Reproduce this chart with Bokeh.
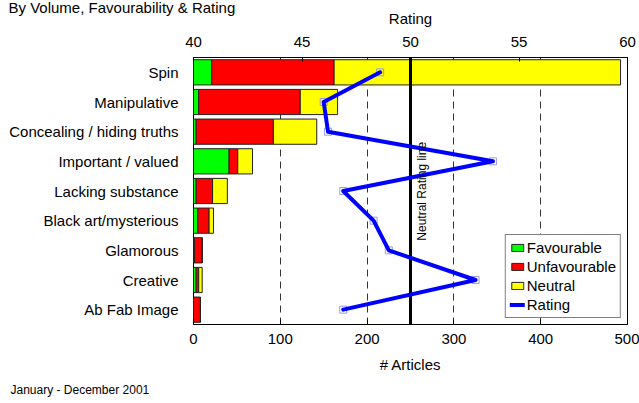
import math
from bokeh.plotting import figure
from bokeh.models import (ColumnDataSource, FactorRange, Range1d, LinearAxis,
                          FixedTicker, Label, Legend, LegendItem, Title)
from bokeh.embed import file_html
from bokeh.resources import INLINE

# ---- data ----
categories = ["Spin", "Manipulative", "Concealing / hiding truths",
              "Important / valued", "Lacking substance", "Black art/mysterious",
              "Glamorous", "Creative", "Ab Fab Image"]
favourable = [21, 6, 3, 41, 3, 5, 1, 3, 0]
unfavourable = [141, 117, 89, 10, 19, 13, 9, 3, 8]
neutral = [330, 43, 50, 17, 17, 5, 0, 4, 0]
rating = [48.6, 46.0, 46.2, 53.8, 46.9, 48.3, 49.0, 53.0, 46.9]
article_ticks = [0, 100, 200, 300, 400, 500]
rating_ticks = [40, 45, 50, 55, 60]
neutral_rating = [50]
series_names = ["Favourable", "Unfavourable", "Neutral"]
series_colors = ["#00FF00", "#FF0000", "#FFFF00"]

title_text = "By Volume, Favourability & Rating"
period_text = "January - December 2001"
neutral_text = "Neutral Rating line"

FONT = "Liberation Sans"

source = ColumnDataSource(dict(cat=categories, fav=favourable,
                               unfav=unfavourable, neu=neutral, rating=rating))

p = figure(width=639, height=403,
           y_range=FactorRange(factors=list(reversed(categories))),
           x_range=Range1d(0, 500),
           output_backend="svg", toolbar_location=None,
           min_border_left=193, min_border_right=12,
           min_border_top=57, min_border_bottom=79)
p.extra_x_ranges = {"rating": Range1d(40, 60)}

p.background_fill_color = "white"
p.border_fill_color = "white"
p.outline_line_color = "black"
p.outline_line_width = 1
p.outline_line_alpha = 1

# grid
p.ygrid.grid_line_color = None
p.xgrid.ticker = FixedTicker(ticks=article_ticks)
p.xgrid.grid_line_color = "#333333"
p.xgrid.grid_line_dash = "7 5"
p.xgrid.grid_line_width = 1

# bars
bars = p.hbar_stack(["fav", "unfav", "neu"], y="cat", height=0.85, source=source,
                    fill_color=series_colors, line_color="#222222", line_width=1)

# neutral rating line
p.vspan(x=neutral_rating, x_range_name="rating", line_color="black", line_width=3)

# rating line
p.scatter(x="rating", y="cat", source=source, x_range_name="rating",
          marker="square", size=7, fill_color=None, line_color="#9a9af0",
          line_width=1)
rline = p.line(x="rating", y="cat", source=source, x_range_name="rating",
               line_color="#0000FF", line_width=4, line_cap="round",
               line_join="round")

# axes
xa = p.xaxis[0]
xa.ticker = FixedTicker(ticks=article_ticks)
xa.axis_label = "# Articles"
xa.minor_tick_line_color = None
xa.major_tick_in = 5
xa.major_tick_out = 0
xa.major_tick_line_color = "black"
xa.axis_line_color = "black"
xa.major_label_standoff = 9
xa.axis_label_standoff = 9

top = LinearAxis(x_range_name="rating", axis_label="Rating",
                 ticker=FixedTicker(ticks=rating_ticks))
top.minor_tick_line_color = None
top.major_tick_in = 4
top.major_tick_out = 0
top.major_tick_line_color = "black"
top.axis_line_color = "black"
top.major_label_standoff = 11
top.axis_label_standoff = 7
p.add_layout(top, "above")

ya = p.yaxis[0]
ya.major_tick_line_color = None
ya.minor_tick_line_color = None
ya.axis_line_color = None
ya.major_label_standoff = 9

for ax in (xa, top, ya):
    ax.major_label_text_font = FONT
    ax.major_label_text_font_size = "15px"
    ax.major_label_text_color = "black"
    ax.axis_label_text_font = FONT
    ax.axis_label_text_font_size = "15px"
    ax.axis_label_text_font_style = "normal"
    ax.axis_label_text_color = "black"

# chart title (outermost panel above, pulled left and tight)
p.add_layout(Title(text=title_text, align="left", vertical_align="bottom",
                   offset=-185, standoff=-18, text_font=FONT,
                   text_font_size="15px", text_font_style="normal",
                   text_color="black"), "above")

# legend inside the frame, in the empty lower-right corner
items = [LegendItem(label=n, renderers=[r]) for n, r in zip(series_names, bars)]
items.append(LegendItem(label="Rating", renderers=[rline]))
leg = Legend(items=items, orientation="vertical", location="bottom_right")
leg.label_text_font = FONT
leg.label_text_font_size = "15px"
leg.label_text_color = "black"
leg.label_height = 16
leg.glyph_width = 15
leg.glyph_height = 9
leg.label_standoff = 2
leg.spacing = 2
leg.padding = 4
leg.margin = 6
leg.border_line_color = "black"
leg.border_line_width = 1
leg.background_fill_color = "white"
leg.background_fill_alpha = 1
p.add_layout(leg, "center")

# period note (outermost panel below)
p.add_layout(Title(text=period_text, align="left", vertical_align="bottom",
                   offset=-183, standoff=10, text_font=FONT,
                   text_font_size="12px", text_font_style="normal",
                   text_color="black"), "below")

# neutral rating line label (y in synthetic categorical coordinates)
p.add_layout(Label(x=263.5, y=4.49, text=neutral_text,
                   text_font=FONT, text_font_size="12px", text_color="black",
                   text_baseline="middle", text_align="center",
                   angle=math.pi / 2))

open("out.html", "w").write(file_html(p, INLINE))
